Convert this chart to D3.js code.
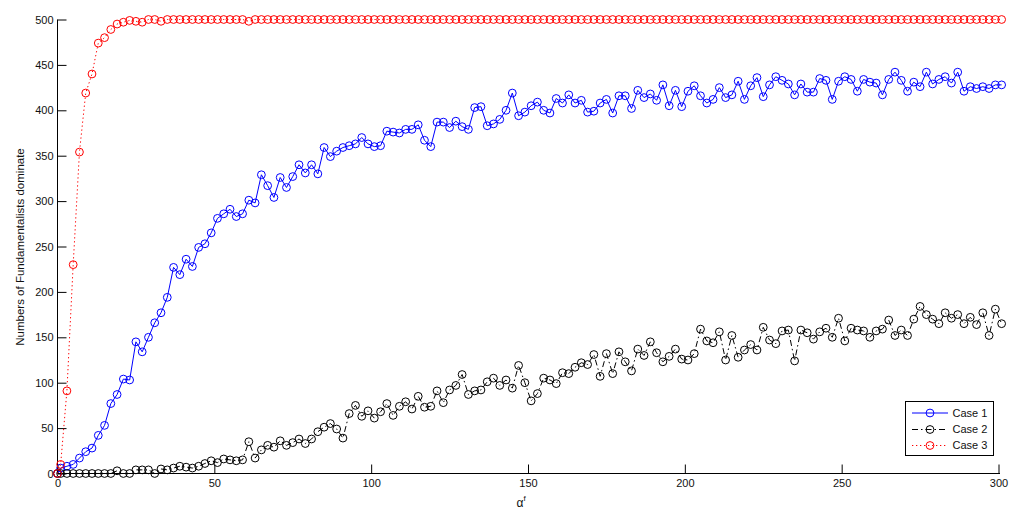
<!DOCTYPE html>
<html><head><meta charset="utf-8">
<script src="https://cdn.jsdelivr.net/npm/d3@7"></script>
<style>
body{margin:0;background:#fff}
text{font-family:Arial,"Liberation Sans",sans-serif;fill:#111}
</style>
</head><body><svg id="c" width="1015" height="509"></svg>
<script>
const xValues=[0,1,3,5,7,9,11,13,15,17,19,21,23,25,27,29,31,33,35,37,39,41,43,45,47,49,51,53,55,57,59,61,63,65,67,69,71,73,75,77,79,81,83,85,87,89,91,93,95,97,99,101,103,105,107,109,111,113,115,117,119,121,123,125,127,129,131,133,135,137,139,141,143,145,147,149,151,153,155,157,159,161,163,165,167,169,171,173,175,177,179,181,183,185,187,189,191,193,195,197,199,201,203,205,207,209,211,213,215,217,219,221,223,225,227,229,231,233,235,237,239,241,243,245,247,249,251,253,255,257,259,261,263,265,267,269,271,273,275,277,279,281,283,285,287,289,291,293,295,297,299,301];
const case1=[0,6,8,10,17,24,28,42,53,77,
87,104,103,145,134,150,166,177,194,227,
219,236,228,249,253,265,281,286,291,283,
286,301,298,329,317,304,326,315,327,340,
331,340,330,359,349,355,359,361,363,370,
363,360,361,377,376,375,379,379,384,367,
360,387,387,381,388,382,379,403,404,383,
385,390,400,419,394,398,405,409,400,397,
413,408,417,408,411,398,399,408,412,397,
416,416,402,422,414,418,411,428,405,422,
404,421,427,416,408,412,425,414,417,432,
412,427,436,415,428,437,433,429,417,429,
420,420,435,433,412,432,437,434,421,434,
431,430,417,434,442,433,421,431,426,442,
429,434,437,430,442,421,426,424,426,424,
428,428];
const case2=[0,0,0,0,0,0,0,0,0,0,
3,0,0,4,4,4,0,5,4,6,
8,7,6,8,11,14,12,16,15,14,
15,35,17,26,31,29,36,31,34,38,
33,38,46,51,55,49,39,66,75,63,
69,61,68,77,64,74,79,71,85,73,
74,91,78,92,97,109,87,91,92,101,
105,97,103,94,119,100,80,88,105,103,
99,111,110,117,122,120,131,107,132,110,
134,123,113,137,130,145,133,123,129,137,
126,125,132,159,146,144,156,125,152,128,
136,142,136,161,147,143,157,158,124,158,
155,148,156,160,150,171,146,160,158,157,
150,157,159,169,152,158,152,170,184,175,
170,165,177,171,175,165,172,164,177,152,
181,165];
const case3=[0,10,91,230,354,419,440,474,480,489,
495,497,499,498,497,500,500,498,500,500,
500,500,500,500,500,500,500,500,500,500,
500,498,500,500,500,500,500,500,500,500,
500,500,500,500,500,500,500,500,500,500,
500,500,500,500,500,500,500,500,500,500,
500,500,500,500,500,500,500,500,500,500,
500,500,500,500,500,500,500,500,500,500,
500,500,500,500,500,500,500,500,500,500,
500,500,500,500,500,500,500,500,500,500,
500,500,500,500,500,500,500,500,500,500,
500,500,500,500,500,500,500,500,500,500,
500,500,500,500,500,500,500,500,500,500,
500,500,500,500,500,500,500,500,500,500,
500,500,500,500,500,500,500,500,500,500,
500,500];
const xTicks=[0,50,100,150,200,250,300];
const yTicks=[0,50,100,150,200,250,300,350,400,450,500];
const seriesNames=["Case 1","Case 2","Case 3"];
const seriesColors=["#0000ff","#000000","#ff0000"];
const seriesDash=[null,"6,3,1.5,3","1.3,2.7"];
const allSeries=[case1,case2,case3];

const svg=d3.select("#c");
const x=d3.scaleLinear().domain([0,300]).range([57.5,998.5]);
const y=d3.scaleLinear().domain([0,500]).range([473.5,19.5]);

// axes
const gx=svg.append("g").attr("transform",`translate(0,${y(0)})`)
  .call(d3.axisBottom(x).tickValues(xTicks).tickSize(-9).tickSizeOuter(0).tickPadding(6));
gx.select(".domain").remove();
gx.selectAll(".tick line").attr("stroke","#000");
gx.selectAll("text").attr("font-size",11).attr("fill","#111");
gx.append("line").attr("x1",x(0)).attr("x2",1000).attr("y1",0).attr("y2",0).attr("stroke","#000");

const gy=svg.append("g").attr("transform",`translate(${x(0)},0)`)
  .call(d3.axisLeft(y).tickValues(yTicks).tickSize(-9).tickSizeOuter(0).tickPadding(4));
gy.select(".domain").remove();
gy.selectAll(".tick line").attr("stroke","#000");
gy.selectAll("text").attr("font-size",11).attr("fill","#111");
gy.append("line").attr("x1",0).attr("x2",0).attr("y1",y(0)).attr("y2",y(500)).attr("stroke","#000");

// series
allSeries.forEach((vals,i)=>{
  const pts=xValues.map((xv,j)=>[xv,vals[j]]);
  const line=d3.line().x(d=>x(d[0])).y(d=>y(d[1]));
  svg.append("path").datum(pts).attr("d",line).attr("fill","none")
    .attr("stroke",seriesColors[i]).attr("stroke-width",1)
    .attr("stroke-dasharray",seriesDash[i]);
  svg.append("g").selectAll("circle").data(pts).join("circle")
    .attr("cx",d=>x(d[0])).attr("cy",d=>y(d[1])).attr("r",3.9)
    .attr("fill","none").attr("stroke",seriesColors[i]).attr("stroke-width",1);
});

// labels
svg.append("text").attr("transform","translate(23.5,247) rotate(-90)")
  .attr("text-anchor","middle").attr("font-size",11.5)
  .text("Numbers of Fundamentalists dominate");
const xl=svg.append("text").attr("x",516.5).attr("y",507).attr("font-size",12);
xl.append("tspan").text("α");
xl.append("tspan").attr("dy",-6).attr("font-size",8).text("f");

// legend
const lg=svg.append("g");
lg.append("rect").attr("x",905.5).attr("y",401.5).attr("width",88).attr("height",54)
  .attr("fill","#fff").attr("stroke","#000").attr("stroke-width",1);
const ly=[413,429.5,445.5];
seriesNames.forEach((name,i)=>{
  lg.append("line").attr("x1",912).attr("x2",948).attr("y1",ly[i]).attr("y2",ly[i])
    .attr("stroke",seriesColors[i]).attr("stroke-width",1).attr("stroke-dasharray",seriesDash[i]);
  lg.append("circle").attr("cx",930).attr("cy",ly[i]).attr("r",3.9)
    .attr("fill","none").attr("stroke",seriesColors[i]).attr("stroke-width",1);
  lg.append("text").attr("x",952.5).attr("y",ly[i]).attr("dy","0.36em")
    .attr("font-size",11).text(name);
});
</script>
</body></html>
